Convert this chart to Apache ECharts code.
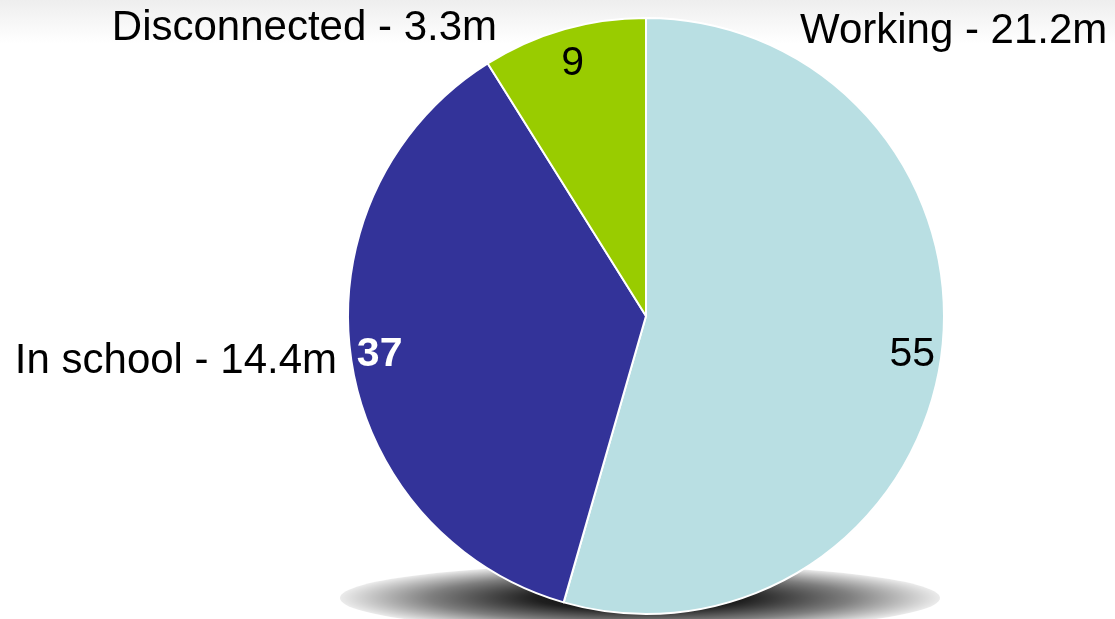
<!DOCTYPE html>
<html>
<head>
<meta charset="utf-8">
<script src="https://cdn.jsdelivr.net/npm/echarts@6/dist/echarts.min.js"></script>
<style>
  html, body { margin: 0; padding: 0; background: #fff; }
  #chart { width: 1115px; height: 619px; }
</style>
</head>
<body>
<div id="chart"></div>
<script>
// Young people by activity: share of total (%) and head-count (millions)
const categories = ['Working', 'In school', 'Disconnected'];
const shares = [55, 37, 9];
const millions = [21.2, 14.4, 3.3];

const colors = ['#B9DFE3', '#333399', '#99CC00'];
const innerLabelColors = ['#000', '#fff', '#000'];
const innerLabelWeights = ['normal', 'bold', 'normal'];
const innerLabelOffsets = [[0, 1], [0, 1], [1, 6]];
// label anchor points for the category captions
const captionSpots = [
  { x: 800, y: 31, align: 'left' },
  { x: 337, y: 361, align: 'right' },
  { x: 497, y: 28, align: 'right' }
];

const FONT = '"Liberation Sans", Arial, sans-serif';
const center = [646, 316];
const R = 298;

const chart = echarts.init(document.getElementById('chart'), null, { renderer: 'canvas' });

const mainData = categories.map((name, i) => ({
  name,
  value: shares[i],
  itemStyle: { color: colors[i] }
}));

const innerData = categories.map((name, i) => ({
  name,
  value: shares[i],
  label: {
    color: innerLabelColors[i],
    fontWeight: innerLabelWeights[i],
    offset: innerLabelOffsets[i]
  }
}));

chart.setOption({
  animation: false,
  backgroundColor: {
    type: 'linear', x: 0, y: 0, x2: 0, y2: 1,
    colorStops: [
      { offset: 0, color: '#eeeeee' },
      { offset: 0.07, color: '#ffffff' },
      { offset: 1, color: '#ffffff' }
    ]
  },
  graphic: [{
    // flattened soft shadow under the pie
    type: 'circle',
    z: -1,
    x: 640, y: 598,
    scaleX: 300 / 34,
    shape: { cx: 0, cy: 0, r: 34 },
    style: {
      fill: {
        type: 'radial', x: 0.5, y: 0.5, r: 0.5,
        colorStops: [
          { offset: 0, color: 'rgba(0,0,0,1)' },
          { offset: 0.35, color: 'rgba(0,0,0,0.88)' },
          { offset: 0.7, color: 'rgba(0,0,0,0.5)' },
          { offset: 0.9, color: 'rgba(0,0,0,0.22)' },
          { offset: 1, color: 'rgba(0,0,0,0.08)' }
        ]
      }
    }
  }],
  series: [
    {
      type: 'pie',
      center,
      radius: [0, R],
      startAngle: 90,
      clockwise: true,
      z: 2,
      itemStyle: { borderColor: '#fff', borderWidth: 2 },
      emphasis: { disabled: true },
      label: {
        show: true,
        position: 'outside',
        fontFamily: FONT,
        fontSize: 42,
        color: '#000',
        overflow: 'none',
        width: 600,
        formatter: p => p.name + ' - ' + millions[p.dataIndex] + 'm'
      },
      labelLine: { show: false },
      labelLayout: p => {
        const s = captionSpots[p.dataIndex];
        return { x: s.x, y: s.y, align: s.align, verticalAlign: 'middle' };
      },
      data: mainData
    },
    {
      // transparent ring that carries the share numbers near the rim
      type: 'pie',
      center,
      radius: [236, 296],
      startAngle: 90,
      clockwise: true,
      silent: true,
      z: 3,
      itemStyle: { color: 'rgba(0,0,0,0)', borderWidth: 0 },
      label: {
        show: true,
        position: 'inside',
        fontFamily: FONT,
        fontSize: 41,
        formatter: '{c}'
      },
      labelLine: { show: false },
      data: innerData
    }
  ]
});
</script>
</body>
</html>
